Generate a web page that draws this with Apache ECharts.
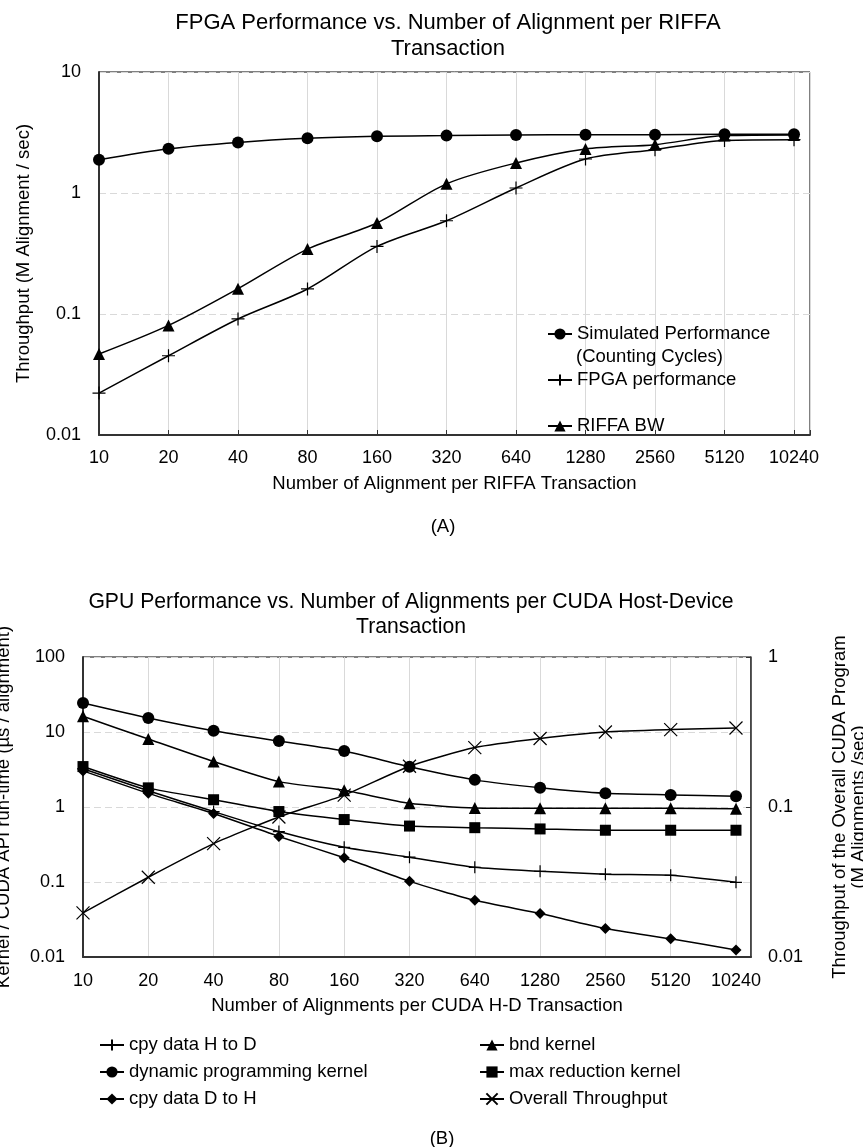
<!DOCTYPE html>
<html>
<head>
<meta charset="utf-8">
<script src="https://cdn.jsdelivr.net/npm/echarts@6/dist/echarts.min.js"></script>
<style>html,body{margin:0;padding:0;background:#fff}#chart{width:863px;height:1147px}</style>
</head>
<body>
<div id="chart"></div>
<script>
// ---- data ----
const categories = ['10','20','40','80','160','320','640','1280','2560','5120','10240'];
// Chart A (M Alignment / sec)
const simulated = [1.88, 2.32, 2.62, 2.83, 2.94, 2.98, 3.02, 3.03, 3.03, 3.06, 3.06];
const fpgaPerf  = [0.0222, 0.0452, 0.091, 0.161, 0.362, 0.59, 1.1, 1.91, 2.28, 2.72, 2.76];
const riffaBW   = [0.0467, 0.0805, 0.162, 0.344, 0.565, 1.19, 1.77, 2.31, 2.51, 2.98, 3.02];
// Chart B (us / alignment)
const cpyHtoD   = [3.23, 1.65, 0.87, 0.47, 0.29, 0.214, 0.157, 0.139, 0.127, 0.123, 0.099];
const dpKernel  = [24.4, 15.4, 10.4, 7.57, 5.57, 3.43, 2.30, 1.80, 1.52, 1.45, 1.39];
const cpyDtoH   = [3.03, 1.52, 0.82, 0.405, 0.21, 0.102, 0.057, 0.038, 0.024, 0.0175, 0.0124];
const bndKernel = [16.2, 8.06, 4.04, 2.18, 1.67, 1.12, 0.97, 0.96, 0.96, 0.96, 0.95];
const maxRed    = [3.46, 1.80, 1.25, 0.87, 0.68, 0.557, 0.53, 0.51, 0.49, 0.49, 0.49];
// Chart B right axis (M Alignments / sec)
const overall   = [0.0197, 0.034, 0.057, 0.0858, 0.12, 0.187, 0.249, 0.286, 0.316, 0.328, 0.336];

const FONT = '"Liberation Sans", Arial, sans-serif';
const toPts = arr => arr.map((v, i) => [i, v]);
const PLUS = 'path://M0,-1L0,1M-1,0L1,0';
const CROSS = 'path://M-1,-1L1,1M-1,1L1,-1';

function xAxisCfg(gi, name, margin, ticks) {
  return {
    type: 'value', gridIndex: gi, min: 0, max: 10.23, interval: 1,
    name: name, nameLocation: 'middle', nameGap: 39,
    nameTextStyle: {fontSize: 18.5, lineHeight: 20, color: '#000', fontFamily: FONT},
    axisLine: {onZero: false, lineStyle: {color: '#333', width: 2}},
    axisTick: {show: ticks, inside: true, length: 5, lineStyle: {color: '#333'}},
    axisLabel: {margin: margin, fontSize: 18, color: '#000', fontFamily: FONT,
      formatter: v => (Math.abs(v - Math.round(v)) < 1e-6 && categories[Math.round(v)] !== undefined) ? categories[Math.round(v)] : ''},
    splitLine: {show: true, lineStyle: {color: '#d9d9d9', width: 1}}
  };
}
function yLogCfg(gi, min, max, name, gap, pos, split) {
  return {
    type: 'log', logBase: 10, gridIndex: gi, min: min, max: max, position: pos,
    name: name, nameLocation: 'middle', nameGap: gap,
    nameTextStyle: {fontSize: 18.5, lineHeight: 20, color: '#000', fontFamily: FONT},
    axisLine: {show: true, lineStyle: {color: '#333', width: pos === 'right' ? 1.5 : 2}},
    axisTick: {show: pos === 'right', inside: true, length: 5, lineStyle: {color: '#333'}},
    axisLabel: {margin: pos === 'right' ? 17 : 18, fontSize: 18, color: '#000', fontFamily: FONT},
    splitLine: {show: split, lineStyle: {color: '#d9d9d9', width: 1, type: [7, 4]}},
    minorTick: {show: false}, minorSplitLine: {show: false}
  };
}
function lineSeries(name, data, xi, yi, symbol, size, smooth) {
  return {
    name: name, type: 'line', xAxisIndex: xi, yAxisIndex: yi, data: toPts(data),
    smooth: smooth, symbol: symbol, symbolSize: size, showSymbol: true,
    lineStyle: {color: '#000', width: 1.5},
    itemStyle: {color: '#000', borderColor: '#000', borderWidth: (symbol === PLUS || symbol === CROSS) ? 1.2 : 0},
    emphasis: {disabled: true}, z: 3
  };
}
const legendText = {fontSize: 18.5, lineHeight: 20, color: '#000', fontFamily: FONT};
const titleText = (fs, lh) => ({fontSize: fs, lineHeight: lh, fontWeight: 'normal', color: '#000', fontFamily: FONT});

const option = {
  animation: false,
  backgroundColor: '#fff',
  textStyle: {fontFamily: FONT},
  title: [
    {text: 'FPGA Performance vs. Number of Alignment per RIFFA\nTransaction', left: 448, top: 10, textAlign: 'center', padding: 0,
     textStyle: titleText(22, 26)},
    {text: '(A)', left: 443, top: 517, textAlign: 'center', padding: 0, textStyle: titleText(18.5, 20)},
    {text: 'GPU Performance vs. Number of Alignments per CUDA Host-Device\nTransaction', left: 411, top: 590, textAlign: 'center', padding: 0,
     textStyle: titleText(21.2, 25)},
    {text: '(B)', left: 442, top: 1129, textAlign: 'center', padding: 0, textStyle: titleText(18.5, 20)}
  ],
  grid: [
    {left: 99, right: 53, top: 72, bottom: 712, show: true, borderColor: '#000', borderWidth: 1,
     containLabel: false, outerBoundsMode: 'none'},
    {left: 83, right: 112, top: 657, bottom: 190, show: true, borderColor: '#000', borderWidth: 1,
     containLabel: false, outerBoundsMode: 'none'}
  ],
  xAxis: [
    xAxisCfg(0, 'Number of Alignment per RIFFA Transaction', 14, true),
    xAxisCfg(1, 'Number of Alignments per CUDA H-D Transaction', 15, false)
  ],
  yAxis: [
    yLogCfg(0, 0.01, 10, 'Throughput (M Alignment / sec)', 65, 'left', true),
    yLogCfg(1, 0.01, 100, 'Kernel / CUDA API run-time (\u00b5s / alignment)', 69, 'left', true),
    Object.assign(yLogCfg(1, 0.01, 1, 'Throughput of the Overall CUDA Program\n(M Alignments /sec)', 79, 'right', false),
      {nameTextStyle: {fontSize: 18.5, lineHeight: 19, color: '#000', fontFamily: FONT}})
  ],
  legend: [
    {data: ['Simulated Performance', 'FPGA performance', 'RIFFA BW'], orient: 'vertical', left: 547, top: 324, padding: 0,
     itemWidth: 24, itemHeight: 14, itemGap: 26, selectedMode: false, textStyle: legendText},
    {data: ['cpy data H to D', 'dynamic programming kernel', 'cpy data D to H'], orient: 'vertical', left: 99, top: 1035, padding: 0,
     itemWidth: 24, itemHeight: 14, itemGap: 7, selectedMode: false, textStyle: legendText},
    {data: ['bnd kernel', 'max reduction kernel', 'Overall Throughput'], orient: 'vertical', left: 479, top: 1035, padding: 0,
     itemWidth: 24, itemHeight: 14, itemGap: 7, selectedMode: false, textStyle: legendText}
  ],
  graphic: [
    {type: 'text', left: 576, top: 347, z: 10,
     style: {text: '(Counting Cycles)', font: '18.5px ' + FONT, fill: '#000'}}
  ],
  series: [
    lineSeries('Simulated Performance', simulated, 0, 0, 'circle', 12, 0.3),
    lineSeries('FPGA performance', fpgaPerf, 0, 0, PLUS, 13, 0.3),
    lineSeries('RIFFA BW', riffaBW, 0, 0, 'triangle', 12, 0.3),
    lineSeries('cpy data H to D', cpyHtoD, 1, 1, PLUS, 12, 0.2),
    lineSeries('dynamic programming kernel', dpKernel, 1, 1, 'circle', 12, 0.2),
    lineSeries('cpy data D to H', cpyDtoH, 1, 1, 'diamond', 11, 0.2),
    lineSeries('bnd kernel', bndKernel, 1, 1, 'triangle', 12, 0.2),
    lineSeries('max reduction kernel', maxRed, 1, 1, 'rect', 11, 0.2),
    lineSeries('Overall Throughput', overall, 1, 2, CROSS, 13, 0.2)
  ]
};
const chart = echarts.init(document.getElementById('chart'), null, {renderer: 'canvas'});
chart.setOption(option);
</script>
</body>
</html>
